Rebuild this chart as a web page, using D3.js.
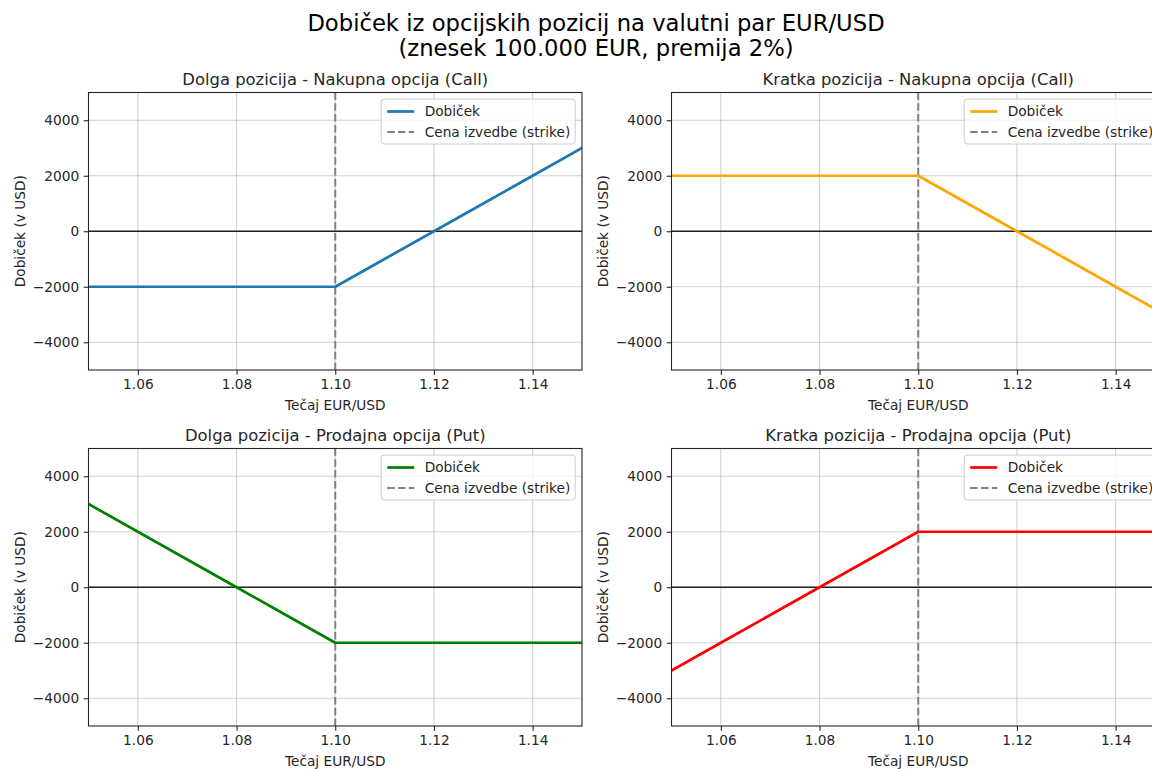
<!DOCTYPE html>
<html>
<head>
<meta charset="utf-8">
<script src="https://cdn.jsdelivr.net/npm/d3@7"></script>
<style>
  html, body { margin: 0; padding: 0; background: #fff; overflow: hidden; }
  svg { display: block; font-family: "DejaVu Sans", sans-serif; }
</style>
</head>
<body>
<svg id="chart" width="1152" height="769"></svg>
<script>
// ---- data ----
const exchangeRates = [1.05, 1.06, 1.07, 1.08, 1.09, 1.10, 1.11, 1.12, 1.13, 1.14, 1.15];
const longCallProfit  = [-2000, -2000, -2000, -2000, -2000, -2000, -1000, 0, 1000, 2000, 3000];
const shortCallProfit = [2000, 2000, 2000, 2000, 2000, 2000, 1000, 0, -1000, -2000, -3000];
const longPutProfit   = [3000, 2000, 1000, 0, -1000, -2000, -2000, -2000, -2000, -2000, -2000];
const shortPutProfit  = [-3000, -2000, -1000, 0, 1000, 2000, 2000, 2000, 2000, 2000, 2000];
const strikePrice = 1.10;
const panelTitles = [
  "Dolga pozicija - Nakupna opcija (Call)",
  "Kratka pozicija - Nakupna opcija (Call)",
  "Dolga pozicija - Prodajna opcija (Put)",
  "Kratka pozicija - Prodajna opcija (Put)"
];
const xTicks = [1.06, 1.08, 1.10, 1.12, 1.14];
const yTicks = [-4000, -2000, 0, 2000, 4000];
const xDomain = [1.05, 1.15];
const yDomain = [-5000, 5000];
const legendLabels = ["Dobiček", "Cena izvedbe (strike)"];
const xLabel = "Tečaj EUR/USD";
const yLabel = "Dobiček (v USD)";
const suptitle = ["Dobiček iz opcijskih pozicij na valutni par EUR/USD", "(znesek 100.000 EUR, premija 2%)"];

const seriesList = [longCallProfit, shortCallProfit, longPutProfit, shortPutProfit];
const seriesColors = ["#1f77b4", "#ffa500", "#008000", "#ff0000"];

// ---- layout ----
const svg = d3.select("#chart");
svg.append("rect").attr("width", 1152).attr("height", 769).attr("fill", "#fff");

const FS = 13.7;
const panelW = 493.5, panelH = 277.5;
const lefts = [88.5, 671.5];
const tops = [92.5, 448.5];

svg.append("text").attr("x", 596).attr("y", 30.5).attr("text-anchor", "middle")
  .attr("font-size", 22.7).attr("fill", "#000").text(suptitle[0]);
svg.append("text").attr("x", 596).attr("y", 55.5).attr("text-anchor", "middle")
  .attr("font-size", 22.7).attr("fill", "#000").text(suptitle[1]);

let clipId = 0;
seriesList.forEach((vals, i) => {
  const left = lefts[i % 2], top = tops[Math.floor(i / 2)];
  const x = d3.scaleLinear().domain(xDomain).range([0, panelW]);
  const y = d3.scaleLinear().domain(yDomain).range([panelH, 0]);
  const g = svg.append("g").attr("transform", `translate(${left},${top})`);

  const cid = "clip" + (clipId++);
  g.append("clipPath").attr("id", cid).append("rect")
    .attr("x", 0).attr("y", 0).attr("width", panelW).attr("height", panelH);

  // grid
  const grid = g.append("g").attr("clip-path", `url(#${cid})`);
  grid.selectAll(".gx").data(xTicks).enter().append("line")
    .attr("x1", d => x(d)).attr("x2", d => x(d)).attr("y1", 0).attr("y2", panelH)
    .attr("stroke", "#b0b0b0").attr("stroke-opacity", 0.6).attr("stroke-width", 1.1);
  grid.selectAll(".gy").data(yTicks).enter().append("line")
    .attr("y1", d => y(d)).attr("y2", d => y(d)).attr("x1", 0).attr("x2", panelW)
    .attr("stroke", "#b0b0b0").attr("stroke-opacity", 0.6).attr("stroke-width", 1.1);

  const plot = g.append("g").attr("clip-path", `url(#${cid})`);
  // zero line
  plot.append("line").attr("x1", 0).attr("x2", panelW).attr("y1", y(0)).attr("y2", y(0))
    .attr("stroke", "#000").attr("stroke-width", 1.4).attr("stroke-opacity", 0.85);
  // strike line
  plot.append("line").attr("x1", x(strikePrice)).attr("x2", x(strikePrice)).attr("y1", 0).attr("y2", panelH)
    .attr("stroke", "#808080").attr("stroke-width", 2).attr("stroke-dasharray", "7.5,3.3");
  // profit line
  const line = d3.line().x((d, k) => x(exchangeRates[k])).y(d => y(d));
  plot.append("path").datum(vals).attr("d", line).attr("fill", "none")
    .attr("stroke", seriesColors[i]).attr("stroke-width", 2.7).attr("stroke-linejoin", "round");

  // axes
  const xAxis = d3.axisBottom(x).tickValues(xTicks).tickFormat(d3.format(".2f")).tickSize(4.8).tickPadding(4.6);
  const yAxis = d3.axisLeft(y).tickValues(yTicks).tickFormat(d => d < 0 ? "\u2212" + Math.abs(d) : String(d)).tickSize(4.8).tickPadding(4.6);
  const gx = g.append("g").attr("transform", `translate(0,${panelH})`).call(xAxis);
  const gy = g.append("g").call(yAxis);
  [gx, gy].forEach(a => {
    a.select(".domain").remove();
    a.selectAll("text").attr("font-size", FS).attr("fill", "#262626").attr("font-family", "DejaVu Sans, sans-serif");
    a.selectAll("line").attr("stroke", "#262626").attr("stroke-width", 1.1);
  });
  // spines
  g.append("rect").attr("x", 0).attr("y", 0).attr("width", panelW).attr("height", panelH)
    .attr("fill", "none").attr("stroke", "#262626").attr("stroke-width", 1.1);

  // labels
  g.append("text").attr("x", panelW / 2).attr("y", panelH + 40).attr("text-anchor", "middle")
    .attr("font-size", FS).attr("fill", "#262626").text(xLabel);
  g.append("text").attr("transform", `translate(${-64},${panelH / 2}) rotate(-90)`).attr("text-anchor", "middle")
    .attr("font-size", FS).attr("fill", "#262626").text(yLabel);
  g.append("text").attr("x", panelW / 2).attr("y", -7.5).attr("text-anchor", "middle")
    .attr("font-size", 16.4).attr("fill", "#262626").text(panelTitles[i]);

  // legend
  const lw = 194, lh = 45;
  const lg = g.append("g").attr("transform", `translate(${panelW - 6.8 - lw},${6.5})`);
  lg.append("rect").attr("width", lw).attr("height", lh).attr("rx", 3).attr("ry", 3)
    .attr("fill", "#fff").attr("fill-opacity", 0.8).attr("stroke", "#cccccc").attr("stroke-width", 1);
  lg.append("line").attr("x1", 6).attr("x2", 33).attr("y1", 12.5).attr("y2", 12.5)
    .attr("stroke", seriesColors[i]).attr("stroke-width", 2.7);
  lg.append("line").attr("x1", 6).attr("x2", 33).attr("y1", 33).attr("y2", 33)
    .attr("stroke", "#808080").attr("stroke-width", 2).attr("stroke-dasharray", "7.5,3.3");
  lg.append("text").attr("x", 43.5).attr("y", 17.3).attr("font-size", FS).attr("fill", "#262626").text(legendLabels[0]);
  lg.append("text").attr("x", 43.5).attr("y", 37.8).attr("font-size", FS).attr("fill", "#262626").text(legendLabels[1]);
});
</script>
</body>
</html>
